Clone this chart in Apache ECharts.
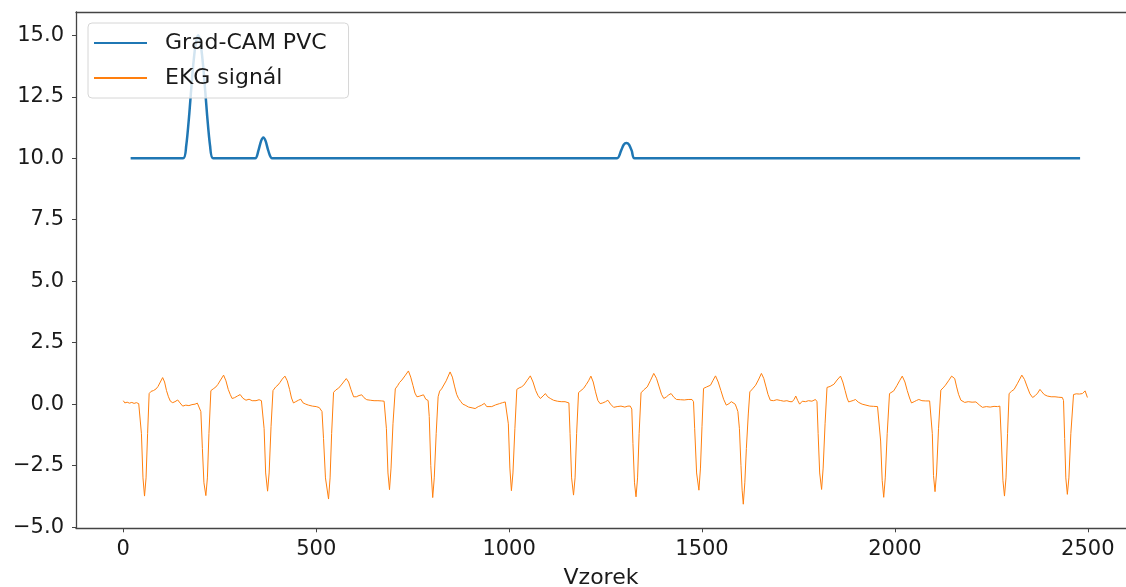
<!DOCTYPE html>
<html>
<head>
<meta charset="utf-8">
<script src="https://cdn.jsdelivr.net/npm/echarts@6/dist/echarts.min.js"></script>
<style>
  html,body{margin:0;padding:0;background:#fff;}
  #chart{width:1126px;height:587px;}
</style>
</head>
<body>
<div id="chart"></div>
<script>
// tick labels
var xTicks = [0, 500, 1000, 1500, 2000, 2500]
var yTicks = [-5, -2.5, 0, 2.5, 5, 7.5, 10, 12.5, 15]

// Grad-CAM PVC, [sample, value]
var gradCam = [
  [19,10],[155,10],[163,10.5],[171,11.8],[179,13.4],[187,14.6],[194,15.0],[201,14.6],[209,13.4],[217,11.8],[225,10.5],[233,10],
  [342,10],[350,10.3],[357,10.7],[363,10.85],[369,10.7],[376,10.3],[386,10],
  [1280,10],[1290,10.3],[1297,10.55],[1304,10.62],[1311,10.55],[1318,10.3],[1325,10],
  [2480,10]
]

// EKG signal, [sample, value]
var ekg = [
  [0,0.14],[4,0.05],[10,0.08],[16,0.04],[22,0.07],[28,0.03],[34,0.06],[40,0.02],[44,0.0],
  [47,-1.2],[51,-3.0],[55,-3.74],[59,-3.0],[63,-1.2],[67,0.43],[72,0.52],[78,0.55],[85,0.62],[90,0.72],[96,0.9],[102,1.08],[107,0.9],[112,0.55],[117,0.3],[122,0.12],[128,0.06],[134,0.1],[141,0.17],[147,0.05],[154,-0.08],[162,-0.04],[170,-0.06],[178,-0.02],[186,0.0],[192,0.04],[197,0.06],
  [201,-0.3],[205,-1.8],[209,-3.2],[214,-3.72],[218,-3.0],[222,-1.2],[227,0.55],[233,0.62],[240,0.7],[245,0.8],[252,0.98],[260,1.18],[266,0.95],[272,0.6],[277,0.4],[282,0.23],[288,0.26],[296,0.33],[303,0.39],[310,0.24],[318,0.16],[326,0.2],[334,0.14],[344,0.14],[352,0.18],[358,0.14],[362,0.12],
  [365,-1.0],[369,-2.8],[374,-3.54],[378,-2.8],[383,-0.9],[388,0.55],[395,0.7],[401,0.78],[406,0.88],[412,1.02],[419,1.14],[425,0.95],[431,0.6],[436,0.25],[441,0.05],[447,0.1],[454,0.16],[460,0.2],[466,0.05],[473,0.0],[480,-0.04],[490,-0.08],[500,-0.1],[508,-0.14],[512,-0.15],[515,-0.3],
  [519,-1.4],[524,-3.0],[532,-3.86],[536,-3.0],[540,-1.2],[545,0.48],[551,0.58],[558,0.65],[565,0.78],[571,0.9],[578,1.04],[584,0.9],[590,0.6],[597,0.3],[604,0.3],[611,0.35],[618,0.38],[624,0.26],[631,0.18],[640,0.16],[650,0.14],[660,0.14],[670,0.13],[676,0.12],[679,0.08],
  [682,-1.0],[686,-2.8],[690,-3.48],[694,-2.6],[699,-0.8],[705,0.62],[711,0.75],[716,0.88],[722,0.98],[730,1.15],[739,1.35],[745,1.1],[751,0.75],[756,0.45],[761,0.3],[767,0.32],[772,0.35],[778,0.38],[784,0.2],[790,0.15],
  [793,-0.5],[797,-2.5],[802,-3.8],[806,-3.0],[811,-1.2],[816,0.3],[820,0.53],[825,0.62],[830,0.7],[837,0.95],[847,1.31],[853,1.1],[859,0.7],[864,0.4],[869,0.23],[875,0.1],[880,0.0],[886,-0.04],[895,-0.12],[904,-0.15],[912,-0.18],[920,-0.1],[928,-0.05],[936,0.03],[942,-0.1],[947,-0.18],[955,-0.1],[965,-0.03],[975,0.02],[983,0.06],[990,0.09],[995,0.07],
  [998,-0.8],[1002,-2.6],[1006,-3.52],[1010,-2.8],[1015,-1.0],[1020,0.6],[1026,0.66],[1032,0.7],[1038,0.77],[1046,0.95],[1055,1.15],[1062,0.9],[1069,0.55],[1075,0.35],[1081,0.23],[1088,0.33],[1094,0.43],[1100,0.3],[1108,0.22],[1115,0.16],[1125,0.12],[1135,0.1],[1145,0.1],[1150,0.09],[1155,0.05],
  [1158,-1.2],[1162,-3.0],[1167,-3.7],[1171,-3.0],[1175,-1.2],[1180,0.47],[1186,0.55],[1193,0.64],[1200,0.8],[1206,0.95],[1212,1.14],[1218,0.9],[1224,0.5],[1230,0.15],[1236,0.02],[1243,0.05],[1250,0.1],[1256,0.16],[1263,0.0],[1271,-0.13],[1280,-0.1],[1290,-0.08],[1300,-0.12],[1308,-0.08],[1314,-0.08],[1318,-0.2],
  [1321,-1.6],[1325,-3.2],[1329,-3.77],[1333,-3.0],[1337,-1.2],[1342,0.46],[1349,0.58],[1358,0.7],[1366,0.95],[1375,1.25],[1382,1.05],[1389,0.7],[1395,0.4],[1401,0.23],[1408,0.3],[1414,0.38],[1420,0.43],[1427,0.28],[1434,0.19],[1444,0.18],[1454,0.17],[1464,0.19],[1474,0.19],[1478,0.1],
  [1481,-1.0],[1486,-2.8],[1492,-3.5],[1496,-2.6],[1500,-0.9],[1504,0.64],[1512,0.7],[1522,0.77],[1528,0.95],[1535,1.15],[1542,0.9],[1549,0.55],[1556,0.2],[1563,-0.04],[1570,0.02],[1576,0.1],[1581,0.13],[1586,0.0],[1589,-0.12],
  [1593,-0.3],[1597,-1.0],[1601,-2.5],[1604,-3.5],[1607,-4.07],[1611,-3.2],[1615,-1.8],[1620,-0.4],[1624,0.5],[1631,0.62],[1639,0.77],[1646,0.98],[1654,1.25],[1660,1.05],[1666,0.7],[1671,0.4],[1677,0.16],[1685,0.14],[1694,0.18],[1703,0.15],[1712,0.12],[1720,0.14],[1728,0.1],[1734,0.1],[1739,0.2],[1743,0.33],[1748,0.15],[1753,0.0],[1760,0.12],[1768,0.1],[1776,0.14],[1785,0.12],[1794,0.19],[1798,0.1],
  [1801,-1.2],[1805,-2.8],[1810,-3.47],[1814,-2.6],[1819,-0.8],[1824,0.68],[1832,0.72],[1842,0.81],[1850,0.98],[1859,1.14],[1865,0.9],[1871,0.55],[1876,0.25],[1880,0.09],[1886,0.12],[1892,0.15],[1898,0.19],[1905,0.08],[1915,0.0],[1925,-0.04],[1935,-0.08],[1945,-0.09],[1955,-0.1],[1959,-0.15],
  [1963,-1.5],[1967,-3.1],[1971,-3.79],[1975,-3.0],[1980,-1.2],[1986,0.43],[1991,0.48],[1997,0.54],[2005,0.75],[2012,0.95],[2019,1.14],[2026,0.9],[2032,0.55],[2038,0.25],[2043,0.05],[2050,0.1],[2056,0.15],[2062,0.19],[2070,0.14],[2080,0.13],[2090,0.13],[2094,0.05],
  [2097,-1.2],[2100,-2.9],[2104,-3.56],[2108,-2.8],[2113,-1.0],[2119,0.57],[2125,0.66],[2131,0.77],[2139,0.95],[2147,1.14],[2151,1.12],[2155,1.04],[2160,0.7],[2165,0.4],[2171,0.16],[2176,0.1],[2181,0.07],[2190,0.1],[2200,0.08],[2210,0.09],[2214,0.08],[2220,-0.05],[2227,-0.13],[2237,-0.1],[2247,-0.12],[2257,-0.09],[2266,-0.1],[2272,-0.08],
  [2276,-1.5],[2280,-3.1],[2284,-3.74],[2288,-3.0],[2292,-1.2],[2296,0.43],[2302,0.52],[2309,0.6],[2318,0.85],[2329,1.18],[2336,1.0],[2343,0.7],[2350,0.42],[2357,0.27],[2364,0.35],[2370,0.45],[2376,0.6],[2381,0.5],[2387,0.39],[2395,0.33],[2405,0.3],[2415,0.3],[2425,0.28],[2434,0.27],[2437,0.15],
  [2440,-1.4],[2443,-3.0],[2447,-3.67],[2451,-3.0],[2456,-1.2],[2463,0.39],[2470,0.42],[2478,0.41],[2486,0.43],[2493,0.54],[2499,0.27]
]

var font = 'DejaVu Sans'
var axisColor = '#444'
var textColor = '#1a1a1a'
var xMin = -122.6, xMax = 2599

var myChart = echarts.init(document.getElementById('chart'))
var option = {
  animation: false,
  grid: { left: 76, top: 12, right: 0, bottom: 58.7, outerBoundsMode: 'none', containLabel: false },
  legend: {
    left: 88, top: 23,
    orient: 'vertical',
    padding: [7, 22, 7, 5],
    itemGap: 9,
    itemWidth: 53,
    itemHeight: 14,
    itemStyle: { opacity: 0 },
    backgroundColor: 'rgba(255,255,255,0.8)',
    borderColor: '#d6d6d6',
    borderWidth: 1,
    borderRadius: 4,
    textStyle: { fontFamily: font, fontSize: 22, color: textColor, lineHeight: 26, padding: [0, 0, 0, 13] },
    data: ['Grad-CAM PVC', 'EKG signál']
  },
  xAxis: [{
    type: 'value',
    min: xMin, max: xMax,
    name: 'Vzorek',
    nameLocation: 'middle',
    nameGap: 39,
    nameTextStyle: { fontFamily: font, fontSize: 22, color: textColor },
    axisLine: { show: true, onZero: false, lineStyle: { color: axisColor, width: 1.3 } },
    axisTick: { show: true, length: 4, lineStyle: { color: axisColor }, customValues: xTicks },
    axisLabel: {
      margin: 11, fontFamily: font, fontSize: 21, color: textColor, customValues: xTicks,
      formatter: function (v) { return String(v) }
    },
    splitLine: { show: false }
  }, {
    // top spine only
    type: 'value', position: 'top',
    min: xMin, max: xMax,
    axisLine: { show: true, onZero: false, lineStyle: { color: axisColor, width: 1.3 } },
    axisTick: { show: false },
    axisLabel: { show: false },
    splitLine: { show: false }
  }],
  yAxis: {
    type: 'value',
    min: -5.05, max: 15.95,
    axisLine: { show: true, onZero: false, lineStyle: { color: axisColor, width: 1.3 } },
    axisTick: { show: true, length: 4, lineStyle: { color: axisColor }, customValues: yTicks },
    axisLabel: {
      margin: 12, padding: [5, 0, 0, 0], fontFamily: font, fontSize: 21, color: textColor, customValues: yTicks,
      formatter: function (v) { return (v < 0 ? '\u2212' : '') + Math.abs(v).toFixed(1) }
    },
    splitLine: { show: false }
  },
  series: [{
    name: 'Grad-CAM PVC',
    type: 'line',
    symbol: 'none',
    smooth: 0.25,
    color: '#1f77b4',
    lineStyle: { width: 2.5, color: '#1f77b4' },
    data: gradCam
  }, {
    name: 'EKG signál',
    type: 'line',
    symbol: 'none',
    color: '#ff7f0e',
    lineStyle: { width: 1, color: '#ff7f0e' },
    data: ekg
  }]
}
myChart.setOption(option)
</script>
</body>
</html>
